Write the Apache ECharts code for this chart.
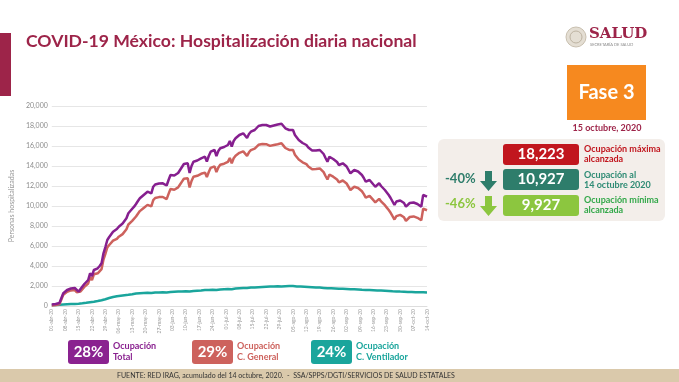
<!DOCTYPE html>
<html><head><meta charset="utf-8">
<script src="https://cdn.jsdelivr.net/npm/echarts@6/dist/echarts.min.js"></script>
<style>html,body{margin:0;padding:0;background:#fff}#c{width:679px;height:382px}</style>
</head><body><div id="c"></div>
<script>
const MONTHS = ['ene','feb','mar','abr','may','jun','jul','ago','sep','oct','nov','dic'];
const N_DAYS = 197; // 1-abr-2020 .. 14-oct-2020
const categories = [];
for (let i = 0; i < N_DAYS; i++) {
  const d = new Date(Date.UTC(2020, 3, 1 + i));
  categories.push(String(d.getUTCDate()).padStart(2, '0') + '-' + MONTHS[d.getUTCMonth()] + '-20');
}

const total = [
150,170,200,250,300,320,1270,1400,1600,1500,
1750,1930,1800,1600,1430,1700,1950,2200,2400,2600,
3270,3000,3600,3650,3770,4000,4270,5270,5900,6600,
6900,7100,7430,7550,7700,7930,8100,8250,8430,8770,
9270,9500,9700,9930,10200,10500,10770,10900,11100,11300,
11430,11500,11270,11930,12150,12270,12250,12300,12270,12200,
12050,12600,13100,13100,13050,13000,13300,13600,13900,14200,
14250,14270,13300,14000,14430,14500,14550,14650,14770,14850,
14930,14450,15000,15430,15500,15600,15000,15500,15770,15800,
15900,16000,16100,16500,15930,16500,16770,16900,17100,17200,
17270,17250,16800,17200,17430,17500,17600,17800,18000,18100,
18100,18050,18100,18050,17950,17850,18050,18170,18150,18200,
18223,18000,17770,17650,17600,17650,17600,17100,16900,16600,
16430,16300,16350,16100,15850,15700,15550,15430,15550,15600,
15600,15500,15200,14800,14430,14930,14800,14700,14600,14400,
14100,14200,14270,14100,13950,13770,13270,13450,13600,13600,
13450,13250,13100,12800,12430,12550,12600,12400,12150,11930,
12100,12270,12000,11800,11600,11350,11100,10800,10450,10100,
10450,10600,10550,10600,10300,9930,10100,10300,10430,10350,
10270,10200,10050,9927,11100,11050,10927
];

const general = [
50,70,90,130,170,180,1120,1240,1430,1320,
1560,1730,1590,1380,1200,1450,1680,1910,2080,2250,
2890,2600,3170,3190,3270,3460,3690,4650,5220,5860,
6100,6250,6530,6610,6720,6930,7070,7190,7350,7670,
8150,8350,8520,8710,8950,9230,9490,9610,9800,9990,
10110,10170,9970,10590,10800,10910,10890,10930,10900,10820,
10690,11210,11700,11690,11630,11570,11860,12150,12440,12730,
12770,12780,11850,12500,12920,12980,13020,13110,13220,13280,
13340,12890,13400,13820,13880,13970,13400,13860,14120,14140,
14230,14320,14410,14800,14260,14780,15030,15140,15320,15400,
15460,15430,15010,15370,15590,15650,15740,15930,16120,16210,
16200,16140,16180,16120,16010,15930,16100,16210,16180,16230,
16273,16040,15800,15670,15610,15650,15610,15130,14940,14650,
14490,14370,14430,14190,13950,13810,13670,13560,13690,13750,
13760,13670,13390,13000,12650,13140,13020,12930,12840,12650,
12370,12460,12550,12390,12250,12080,11600,11770,11930,11940,
11800,11610,11480,11190,10830,10950,11010,10820,10580,10370,
10550,10720,10460,10270,10080,9840,9600,9320,8980,8650,
8990,9150,9110,9160,8870,8520,8690,8900,9030,8960,
8890,8820,8680,8567,9730,9690,9577
];

const ventilador = [
100,100,110,120,130,140,150,160,170,180,
190,200,210,220,230,250,270,290,320,350,
380,400,430,460,500,540,580,620,680,740,
800,850,900,940,980,1000,1030,1060,1080,1100,
1120,1150,1180,1220,1250,1270,1280,1290,1300,1310,
1320,1330,1300,1340,1350,1360,1360,1370,1370,1380,
1360,1390,1400,1410,1420,1430,1440,1450,1460,1470,
1480,1490,1450,1500,1510,1520,1530,1540,1550,1570,
1590,1560,1600,1610,1620,1630,1600,1640,1650,1660,
1670,1680,1690,1700,1670,1720,1740,1760,1780,1800,
1810,1820,1790,1830,1840,1850,1860,1870,1880,1890,
1900,1910,1920,1930,1940,1920,1950,1960,1970,1970,
1950,1960,1970,1980,1990,2000,1990,1970,1960,1950,
1940,1930,1920,1910,1900,1890,1880,1870,1860,1850,
1840,1830,1810,1800,1780,1790,1780,1770,1760,1750,
1730,1740,1720,1710,1700,1690,1670,1680,1670,1660,
1650,1640,1620,1610,1600,1600,1590,1580,1570,1560,
1550,1550,1540,1530,1520,1510,1500,1480,1470,1450,
1460,1450,1440,1440,1430,1410,1410,1400,1400,1390,
1380,1380,1370,1360,1370,1360,1350
];

const summaryValues = ['18,223', '10,927', '9,927'];
const summaryLabels = ['Ocupación máxima\nalcanzada', 'Ocupación al\n14 octubre 2020', 'Ocupación mínima\nalcanzada'];
const changeLabels = ['-40%', '-46%'];
const legendPercents = ['28%', '29%', '24%'];
const legendLabels = ['Ocupación\nTotal', 'Ocupación\nC. General', 'Ocupación\nC. Ventilador'];

const C_PURPLE = '#861f8f', C_RED = '#cd625d', C_TEAL = '#1aa59c';
const MAROON = '#9d2449';
const F = 'Lato, "Open Sans", sans-serif';

const chart = echarts.init(document.getElementById('c'), null, {renderer: 'canvas'});

function txt(x, y, text, size, color, opts) {
  opts = opts || {};
  return { type: 'text', x: x, y: y, z: 20, style: {
    text: text, font: (opts.weight || 'bold') + ' ' + size + 'px ' + (opts.family || F), fill: color,
    align: opts.align || 'left', verticalAlign: opts.va || 'middle', lineHeight: opts.lh
  }};
}
function rect(x, y, w, h, color, r) {
  return { type: 'rect', z: 10, shape: {x: x, y: y, width: w, height: h, r: r || 0}, style: {fill: color} };
}
function arrow(y0, color) {
  return { type: 'polygon', z: 12, shape: { points: [[485,y0],[492,y0],[492,y0+10],[497,y0+10],[488.5,y0+20],[480,y0+10],[485,y0+10]] }, style: {fill: color} };
}

const graphics = [
  rect(0, 33, 11, 63, MAROON),
  txt(26, 41, 'COVID-19 México: Hospitalización diaria nacional', 17.6, MAROON),
  // SALUD logo
  { type: 'circle', z: 10, shape: {cx: 576, cy: 37, r: 10}, style: {fill: '#e4ded3', stroke: '#c9c0b0', lineWidth: 1} },
  { type: 'circle', z: 11, shape: {cx: 576, cy: 37, r: 6}, style: {fill: 'none', stroke: '#bdb3a2', lineWidth: 1} },
  txt(589, 34, 'SALUD', 15, MAROON, {family: '"DejaVu Serif", serif'}),
  txt(590, 45, 'SECRETARÍA DE SALUD', 4, '#8a8a8a', {weight: 'normal'}),
  // Fase 3
  rect(567, 65, 79, 55, '#f6891f'),
  txt(606.5, 93, 'Fase 3', 20, '#ffffff', {align: 'center'}),
  txt(607, 128, '15 octubre, 2020', 9, MAROON, {align: 'center'}),
  // summary panel
  rect(438, 139, 227, 82, '#f3eeea', 6),
  rect(503, 144, 76, 21, '#c1161e', 3),
  rect(503, 169, 76, 21, '#2e7d6b', 3),
  rect(503, 195, 76, 21, '#8cc63f', 3),
  txt(541, 154.5, summaryValues[0], 15, '#ffffff', {align: 'center'}),
  txt(541, 179.5, summaryValues[1], 15, '#ffffff', {align: 'center'}),
  txt(541, 205.5, summaryValues[2], 15, '#ffffff', {align: 'center'}),
  txt(584, 154.5, summaryLabels[0], 9, '#c1161e', {lh: 10}),
  txt(584, 180, summaryLabels[1], 9, '#2e8b74', {lh: 10}),
  txt(584, 205.5, summaryLabels[2], 9, '#33a84a', {lh: 10}),
  txt(445, 179, changeLabels[0], 13, '#2e7d6b'),
  txt(445, 204, changeLabels[1], 13, '#8cc63f'),
  arrow(171, '#2e7d6b'),
  arrow(196, '#8cc63f'),
  // legend
  rect(68, 340, 41, 24, '#8a2290', 3),
  txt(88.5, 352.5, legendPercents[0], 15, '#ffffff', {align: 'center'}),
  txt(113, 352, legendLabels[0], 9, '#8a2290', {lh: 11}),
  rect(192, 340, 41, 24, C_RED, 3),
  txt(212.5, 352.5, legendPercents[1], 15, '#ffffff', {align: 'center'}),
  txt(237, 352, legendLabels[1], 9, C_RED, {lh: 11}),
  rect(311, 340, 41, 24, C_TEAL, 3),
  txt(331.5, 352.5, legendPercents[2], 15, '#ffffff', {align: 'center'}),
  txt(356, 352, legendLabels[2], 9, C_TEAL, {lh: 11}),
  // footer
  rect(0, 369, 679, 13, '#dac9ab'),
  txt(117, 376, 'FUENTE: RED IRAG, acumulado del 14 octubre, 2020.  -  SSA/SPPS/DGTI/SERVICIOS DE SALUD ESTATALES', 7, '#333333', {weight: 'normal'})
];

chart.setOption({
  animation: false,
  backgroundColor: '#ffffff',
  grid: {left: 48, right: 252, top: 106, bottom: 76, containLabel: false},
  xAxis: {
    type: 'category', data: categories, boundaryGap: false,
    axisLine: {show: true, lineStyle: {color: '#dddddd'}},
    axisTick: {show: false},
    axisLabel: {interval: 6, rotate: 90, fontSize: 5, color: '#9a9a9a', margin: 3, fontFamily: F}
  },
  yAxis: {
    type: 'value', min: 0, max: 20000, interval: 2000,
    name: 'Personas hospitalizadas', nameLocation: 'middle', nameGap: 24,
    nameTextStyle: {fontSize: 7, color: '#999999', fontFamily: F},
    axisLine: {show: false}, axisTick: {show: false},
    axisLabel: {fontSize: 7, color: '#8c8c8c', margin: 4, fontFamily: F,
      formatter: v => v.toLocaleString('en-US')},
    splitLine: {lineStyle: {color: '#e6e6e6', width: 1}}
  },
  series: [
    {name: 'Ocupación C. Ventilador', type: 'line', data: ventilador, symbol: 'none', lineStyle: {color: C_TEAL, width: 2.5}, itemStyle: {color: C_TEAL}},
    {name: 'Ocupación C. General', type: 'line', data: general, symbol: 'none', lineStyle: {color: C_RED, width: 2.5}, itemStyle: {color: C_RED}},
    {name: 'Ocupación Total', type: 'line', data: total, symbol: 'none', lineStyle: {color: C_PURPLE, width: 2.5}, itemStyle: {color: C_PURPLE}}
  ],
  graphic: graphics
});
</script>
</body></html>
